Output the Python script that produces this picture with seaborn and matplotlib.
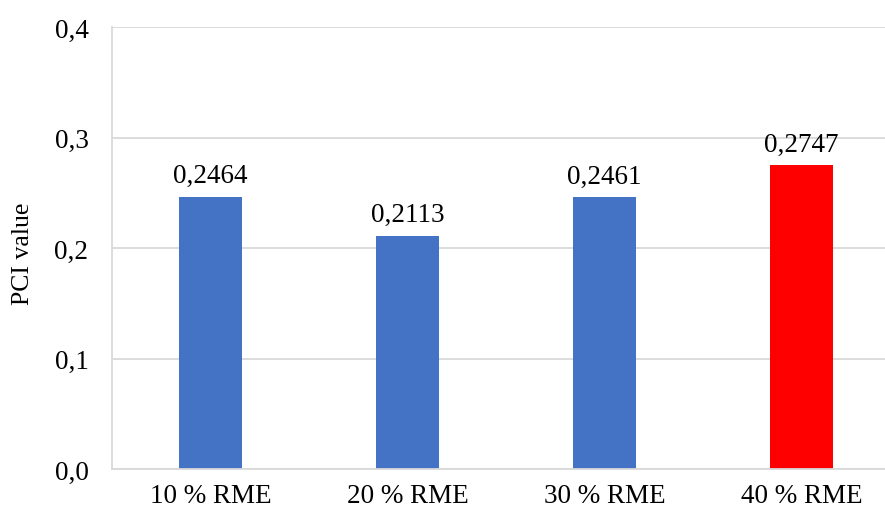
import matplotlib
matplotlib.use("Agg")
import matplotlib.pyplot as plt
import seaborn as sns
import pandas as pd

categories = ["10 % RME", "20 % RME", "30 % RME", "40 % RME"]
values = [0.2464, 0.2113, 0.2461, 0.2747]
colors = ["#4472C4", "#4472C4", "#4472C4", "#FF0000"]
yticks = [0.0, 0.1, 0.2, 0.3, 0.4]

sns.set_theme(style="white")
plt.rcParams['font.family'] = ['Liberation Serif', 'DejaVu Serif']
plt.rcParams['text.color'] = 'black'
plt.rcParams['xtick.color'] = 'black'
plt.rcParams['ytick.color'] = 'black'
plt.rcParams['axes.labelcolor'] = 'black'

fs = 19.5

df = pd.DataFrame({"cat": categories, "val": values})

fig = plt.figure(figsize=(8.85, 5.1), dpi=100)
ax = fig.add_axes([112/885, 40/510, 788/885, 442/510])
sns.barplot(data=df, x="cat", y="val", hue="cat", palette=colors, legend=False,
            width=0.315, ax=ax, saturation=1, linewidth=0)

ax.set_xlim(-0.5, 3.5)
ax.set_ylim(0, 0.4)
ax.set_yticks(yticks)
ax.set_yticklabels([f"{t:.1f}".replace(".", ",") for t in yticks], fontsize=fs)
ax.tick_params(axis='x', labelsize=fs, length=0, pad=10)
ax.tick_params(axis='y', length=0, pad=17)
ax.yaxis.grid(True, color="#D9D9D9", linewidth=1.3)
ax.set_axisbelow(True)
for s in ["top", "right"]:
    ax.spines[s].set_visible(False)
ax.spines["left"].set_color("#D9D9D9")
ax.spines["left"].set_linewidth(1.3)
ax.spines["bottom"].set_color("#D9D9D9")
ax.spines["bottom"].set_linewidth(1.3)
ax.set_xlabel("")
ax.set_ylabel("PCI value", fontsize=18.5)
ax.yaxis.set_label_coords(-(112 - 34) / 788, 0.49)

for i, v in enumerate(values):
    ax.annotate(f"{v:.4f}".replace(".", ","), (i, v), xytext=(0, 6),
                textcoords="offset points", ha="center", va="bottom", fontsize=fs)

fig.savefig("out.png", dpi=100)
